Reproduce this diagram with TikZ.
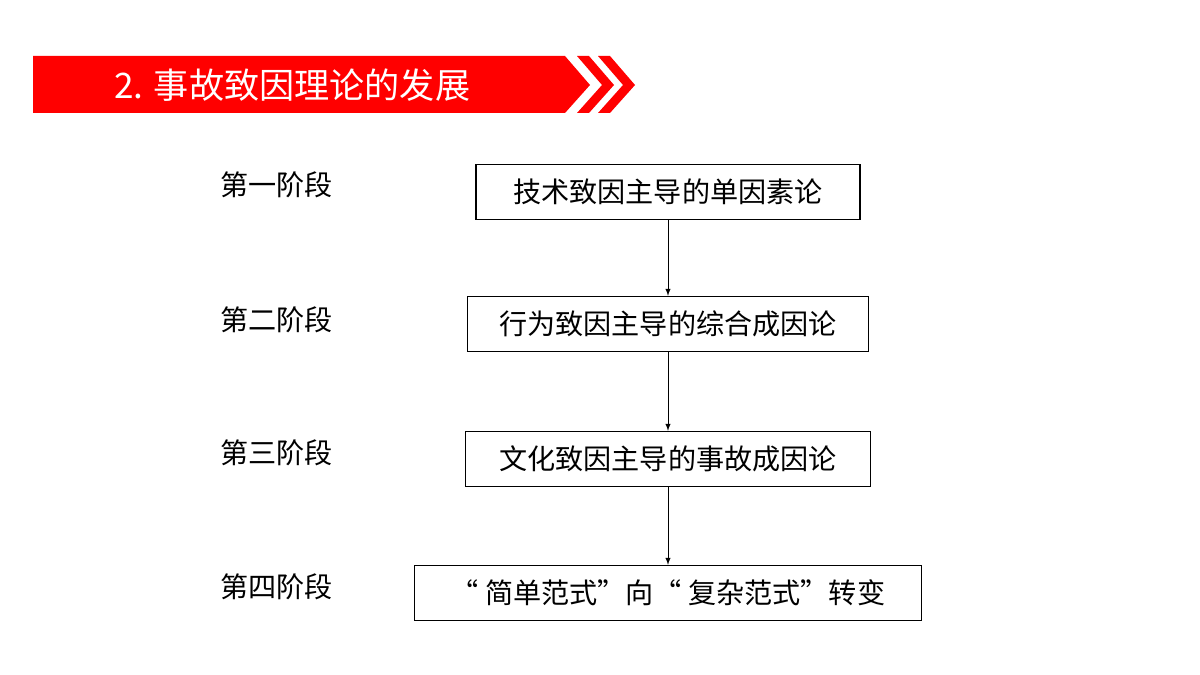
\documentclass[tikz,border=0pt]{standalone}
\usepackage{fontspec}
\setmainfont{Noto Sans CJK SC}
\usetikzlibrary{positioning}
\tikzset{
    stagebox/.style={draw, thick, minimum height=1.1cm, inner xsep=4pt, font=\fontsize{16}{18}\selectfont},
    stagelabel/.style={anchor=west, font=\fontsize{16}{18}\selectfont},
}
\begin{document}
\begin{tikzpicture}[>=latex, x=0.02cm, y=-0.02cm]
\useasboundingbox (0,0) rectangle (1200,675);
\fill[red] (33,56)--(565,56)--(590,85)--(565,113)--(33,113)--cycle;
\fill[red] (577,56)--(589,56)--(614,85)--(589,113)--(577,113)--(602,85)--cycle;
\fill[red] (598,56)--(610,56)--(635,85)--(610,113)--(598,113)--(623,85)--cycle;
\node[anchor=west, text=white, font=\fontsize{20}{22}\selectfont] (title) at (108,85) {2. 事故致因理论的发展};

\node[stagebox, minimum width=384*0.02cm] (s1) at (668,192) {技术致因主导的单因素论};
\node[stagebox, minimum width=401*0.02cm] (s2) at (668,324) {行为致因主导的综合成因论};
\node[stagebox, minimum width=405*0.02cm] (s3) at (668,459) {文化致因主导的事故成因论};
\node[stagebox, minimum width=507*0.02cm] (s4) at (668,593) {“ 简单范式”向“ 复杂范式”转变};

\draw[->] (s1)--(s2);
\draw[->] (s2)--(s3);
\draw[->] (s3)--(s4);

\node[stagelabel] (l1) at (214,185) {第一阶段};
\node[stagelabel] (l2) at (214,320) {第二阶段};
\node[stagelabel] (l3) at (214,453) {第三阶段};
\node[stagelabel] (l4) at (214,587) {第四阶段};
\end{tikzpicture}
\end{document}
